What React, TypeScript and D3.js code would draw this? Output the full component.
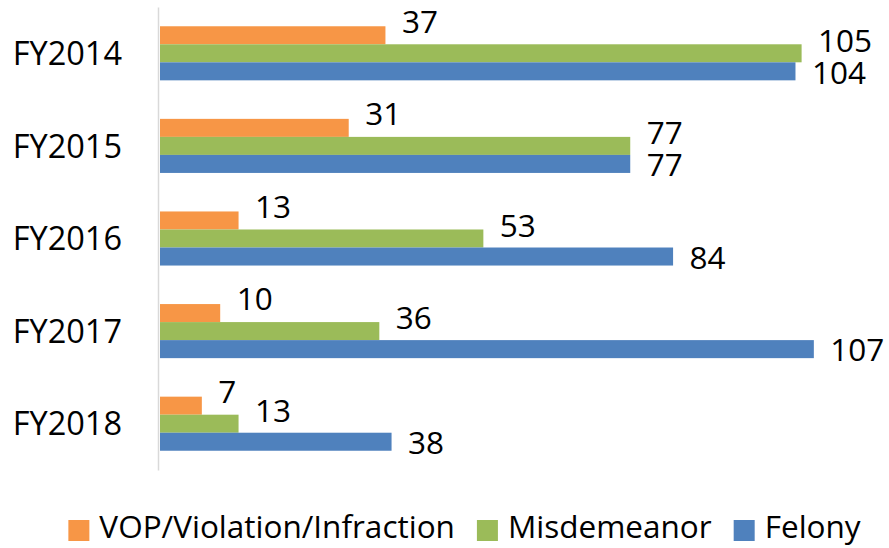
import React, { useEffect, useRef } from 'react';
import * as d3 from 'd3';

const years = ['FY2014', 'FY2015', 'FY2016', 'FY2017', 'FY2018'];
const seriesNames = ['VOP/Violation/Infraction', 'Misdemeanor', 'Felony'];
const vop = [37, 31, 13, 10, 7];
const misdemeanor = [105, 77, 53, 36, 13];
const felony = [104, 77, 84, 107, 38];
const colors = ['#F79646', '#9BBB59', '#4F81BD'];

const FONT = "'Open Sans', sans-serif";

export default function App() {
  const ref = useRef<SVGSVGElement>(null);

  useEffect(() => {
    const w = 889, h = 548;
    const svg = d3.select(ref.current).attr('width', w).attr('height', h);
    svg.selectAll('*').remove();

    const values = [vop, misdemeanor, felony];
    const rows = years.map((yr, i) => ({
      year: yr,
      vals: seriesNames.map((s, j) => ({ series: s, idx: j, v: values[j][i] })),
    }));

    const x = d3.scaleLinear().domain([0, 120]).range([159, 893.4]);
    const y = d3.scaleBand().domain(years).range([7, 470]).padding(0);
    const bw = y.bandwidth();
    const inner = d3.scaleBand()
      .domain(seriesNames)
      .range([bw * 0.208, bw * 0.792]);

    // category axis
    const ax = svg.append('g')
      .attr('transform', `translate(158,0)`)
      .call(d3.axisLeft(y).tickSize(0).tickSizeOuter(0).tickPadding(36));
    ax.select('.domain').attr('stroke', '#d9d9d9').attr('stroke-width', 1.5);
    ax.selectAll('text')
      .attr('font-family', FONT)
      .attr('font-size', 32.5)
      .attr('fill', '#000')
      .attr('dy', '0.36em');

    const g = svg.selectAll('.grp')
      .data(rows)
      .enter().append('g')
      .attr('transform', d => `translate(0,${y(d.year)})`);

    g.selectAll('rect')
      .data(d => d.vals)
      .enter().append('rect')
      .attr('x', x(0) + 1)
      .attr('y', d => inner(d.series)!)
      .attr('width', d => x(d.v) - x(0) - 1)
      .attr('height', inner.bandwidth())
      .attr('fill', d => colors[d.idx]);

    // data labels, nudged like the original
    const labelDy = [-14, -13, 1];
    g.selectAll('.lbl')
      .data(d => d.vals)
      .enter().append('text')
      .attr('x', d => x(d.v) + 16.5)
      .attr('y', d => inner(d.series)! + inner.bandwidth() / 2 + labelDy[d.idx])
      .attr('dy', '0.36em')
      .attr('font-family', FONT)
      .attr('font-size', 31.5)
      .attr('fill', '#000')
      .text(d => d.v);

    // legend
    const leg = svg.append('g');
    let cx = 0;
    seriesNames.forEach((s, i) => {
      leg.append('rect')
        .attr('x', cx).attr('y', 520)
        .attr('width', 21).attr('height', 21)
        .attr('fill', colors[i]);
      const t = leg.append('text')
        .attr('x', cx + 31).attr('y', 538)
        .attr('font-family', FONT)
        .attr('font-size', 31.5)
        .attr('fill', '#000')
        .text(s);
      cx += 31 + (t.node() as SVGTextElement).getComputedTextLength() + 22;
    });
    const legW = cx - 22;
    leg.attr('transform', `translate(${464.5 - legW / 2},0)`);
  }, []);

  return (
    <div style={{ position: 'absolute', left: 0, top: 0, background: '#fff' }}>
      <svg ref={ref}></svg>
    </div>
  );
}
